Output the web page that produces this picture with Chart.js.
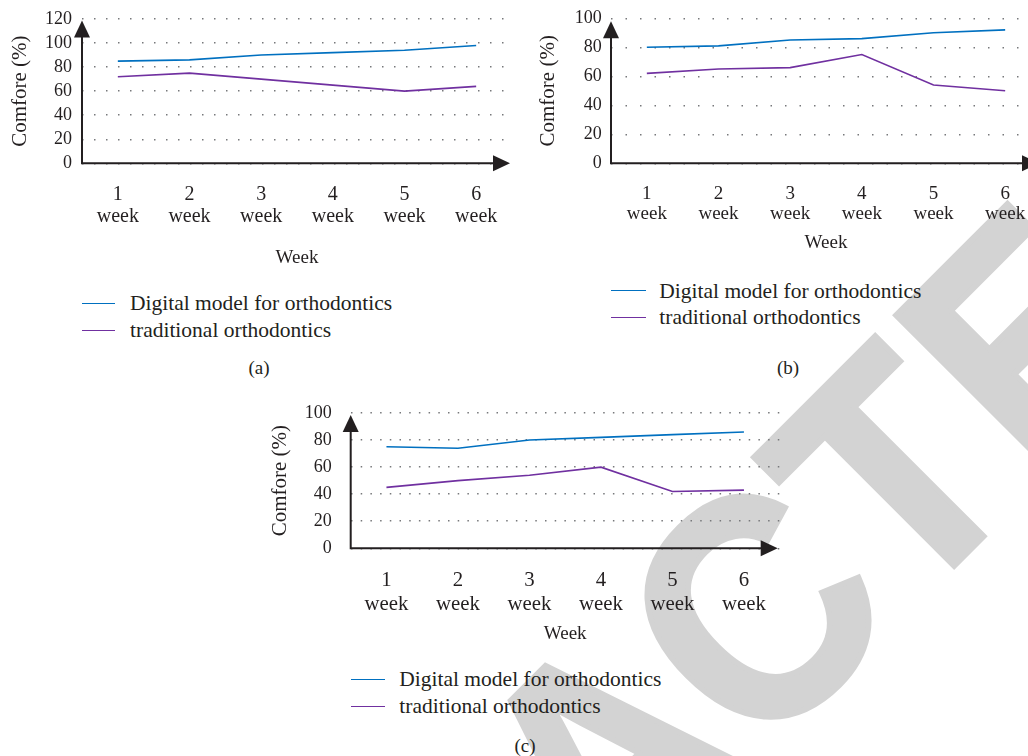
<!DOCTYPE html>
<html>
<head>
<meta charset="utf-8">
<script src="https://cdn.jsdelivr.net/npm/chart.js@4.4.1/dist/chart.umd.min.js"></script>
<style>
  html, body { margin: 0; padding: 0; background: #fff; }
  body { width: 1028px; height: 756px; overflow: hidden; position: relative;
         font-family: "Liberation Serif", serif; color: #231f20; }
  /* diagonal watermark, one glyph per span, centred on its left offset */
  .wm { position: absolute; left: 698px; top: 580px; width: 0; height: 0;
        transform-origin: 0 0; transform: rotate(-45deg); }
  .wm span { position: absolute; top: -97px; font-family: "Liberation Sans", sans-serif;
             font-weight: bold; font-size: 317px; line-height: 1; color: #d3d3d3;
             -webkit-text-stroke: 6px #d3d3d3; white-space: pre;
             transform: translateX(-50%) scaleX(0.92); }
  canvas { position: absolute; }
  .legend { position: absolute; font-size: 21.5px; line-height: 26.7px; }
  .legend .row { display: flex; align-items: center; white-space: nowrap; }
  .legend .swatch { height: 0; border-top: 1.6px solid; }
  .tag { position: absolute; font-size: 19px; line-height: 1; transform: translate(-50%, -50%); }
</style>
</head>
<body>
<div class="wm">
  <span style="left:-987px">R</span><span style="left:-784px">E</span><span style="left:-598px">T</span><span style="left:-404px">R</span><span style="left:-193px">A</span><span style="left:18px">C</span><span style="left:212px">T</span><span style="left:405px">E</span><span style="left:608px">D</span>
</div>

<canvas id="chartA" width="540" height="268" style="left:0px; top:0px;"></canvas>
<canvas id="chartB" width="540" height="253" style="left:530px; top:0px;"></canvas>
<canvas id="chartC" width="540" height="259" style="left:260px; top:385px;"></canvas>

<div class="legend" id="legendA" style="left:82px; top:290px;"></div>
<div class="legend" id="legendB" style="left:611px; top:277.5px;"></div>
<div class="legend" id="legendC" style="left:350.7px; top:666px;"></div>

<div class="tag" style="left:259px; top:367px;">(a)</div>
<div class="tag" style="left:788px; top:367px;">(b)</div>
<div class="tag" style="left:525px; top:745px;">(c)</div>

<script>
// Week categories (two-line tick labels)
const weeks = [["1", "week"], ["2", "week"], ["3", "week"], ["4", "week"], ["5", "week"], ["6", "week"]];
const seriesNames = ["Digital model for orthodontics", "traditional orthodontics"];

// Comfort (%) per week, panel (a)
const digitalA = [85, 86, 90, 92, 94, 98];
const traditionalA = [72, 75, 70, 65, 60, 64];
// panel (b)
const digitalB = [80, 81, 85, 86, 90, 92];
const traditionalB = [62, 65, 66, 75, 54, 50];
// panel (c)
const digitalC = [75, 74, 80, 82, 84, 86];
const traditionalC = [45, 50, 54, 60, 42, 43];

const yMaxA = 120, yMaxB = 100, yMaxC = 100;
const yStep = 20;

const BLUE = "#0070c0";
const PURPLE = "#7030a0";
const INK = "#231f20";

Chart.defaults.font.family = '"Liberation Serif", serif';
Chart.defaults.color = INK;

// Axis lines with solid arrowheads, drawn from the chart area
const arrowAxes = {
  id: "arrowAxes",
  afterDatasetsDraw(chart, args, opts) {
    const { ctx, chartArea: { left, right, top, bottom } } = chart;
    const yTip = top + opts.yTip;
    const xTip = right - opts.xTip;
    const len = 17, half = 8;
    ctx.save();
    ctx.strokeStyle = INK;
    ctx.fillStyle = INK;
    ctx.lineWidth = 2;
    ctx.beginPath();
    ctx.moveTo(left, yTip + len - 1);
    ctx.lineTo(left, bottom);
    ctx.lineTo(xTip - len + 1, bottom);
    ctx.stroke();
    ctx.beginPath();
    ctx.moveTo(left, yTip);
    ctx.lineTo(left - half, yTip + len);
    ctx.lineTo(left + half, yTip + len);
    ctx.closePath();
    ctx.fill();
    ctx.beginPath();
    ctx.moveTo(xTip, bottom);
    ctx.lineTo(xTip - len, bottom - half);
    ctx.lineTo(xTip - len, bottom + half);
    ctx.closePath();
    ctx.fill();
    ctx.restore();
  }
};

function makeChart(id, cfg) {
  return new Chart(document.getElementById(id), {
    type: "line",
    data: {
      labels: weeks,
      datasets: [
        { label: seriesNames[0], data: cfg.digital, borderColor: BLUE, backgroundColor: BLUE,
          borderWidth: 1.6, pointRadius: 0, tension: 0, fill: false },
        { label: seriesNames[1], data: cfg.traditional, borderColor: PURPLE, backgroundColor: PURPLE,
          borderWidth: 1.6, pointRadius: 0, tension: 0, fill: false }
      ]
    },
    options: {
      responsive: false,
      animation: false,
      events: [],
      layout: { padding: cfg.pad },
      plugins: {
        legend: { display: false },
        tooltip: { enabled: false },
        arrowAxes: cfg.arrow
      },
      scales: {
        x: {
          offset: true,
          grid: { display: false },
          border: { display: false },
          ticks: { font: { size: cfg.xFont, lineHeight: cfg.xLine }, padding: cfg.xPad,
                   maxRotation: 0, autoSkip: false, color: INK },
          title: { display: true, text: "Week", font: { size: 19, lineHeight: 1 }, padding: 0, color: INK },
          afterFit(s) { s.height = cfg.xHeight; }
        },
        y: {
          min: 0,
          max: cfg.yMax,
          ticks: { stepSize: yStep, autoSkip: false, font: { size: 18, lineHeight: 1 },
                   padding: cfg.yPad, color: INK },
          grid: { color: "#77787b", lineWidth: 1.5, drawTicks: false },
          border: { display: false, dash: cfg.dash },
          title: { display: true, text: "Comfore (%)", font: { size: 21, lineHeight: 1 }, padding: 0, color: INK },
          afterFit(s) { s.width = cfg.yWidth; }
        }
      }
    },
    plugins: [arrowAxes]
  });
}

const charts = [
  makeChart("chartA", {
    digital: digitalA, traditional: traditionalA, yMax: yMaxA,
    pad: { left: 9.5, top: 17.3, right: 28, bottom: 0 },
    yWidth: 72.5, xHeight: 104.7, yPad: 10, xPad: 12.7, xFont: 20, xLine: 1.1,
    dash: [1.5, 10.5], arrow: { yTip: 1.5, xTip: 2 }
  }),
  makeChart("chartB", {
    digital: digitalB, traditional: traditionalB, yMax: yMaxB,
    pad: { left: 8, top: 16.7, right: 29, bottom: 0 },
    yWidth: 73, xHeight: 89.7, yPad: 9.3, xPad: 12, xFont: 19, xLine: 1.095,
    dash: [1.5, 13], arrow: { yTip: 3, xTip: 2 }
  }),
  makeChart("chartC", {
    digital: digitalC, traditional: traditionalC, yMax: yMaxC,
    pad: { left: 10, top: 17.3, right: 20.3, bottom: 0 },
    yWidth: 80.7, xHeight: 95.7, yPad: 19, xPad: 12.3, xFont: 20.8, xLine: 1.154,
    dash: [1.5, 8.2], arrow: { yTip: 2, xTip: 2 }
  })
];

// Legends listing each series with a short line sample
const legendLayout = [
  { id: "legendA", swatch: 33, gap: 15 },
  { id: "legendB", swatch: 35, gap: 13.3 },
  { id: "legendC", swatch: 34.3, gap: 14.3 }
];
legendLayout.forEach((lg, i) => {
  const box = document.getElementById(lg.id);
  charts[i].data.datasets.forEach(ds => {
    const row = document.createElement("div");
    row.className = "row";
    const sw = document.createElement("span");
    sw.className = "swatch";
    sw.style.width = lg.swatch + "px";
    sw.style.marginRight = lg.gap + "px";
    sw.style.borderTopColor = ds.borderColor;
    const txt = document.createElement("span");
    txt.textContent = ds.label;
    row.appendChild(sw);
    row.appendChild(txt);
    box.appendChild(row);
  });
});
</script>
</body>
</html>
